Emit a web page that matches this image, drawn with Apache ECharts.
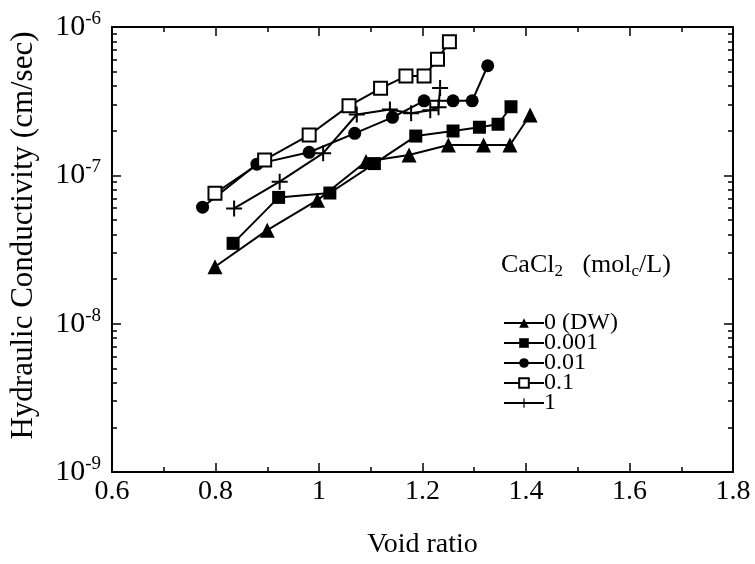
<!DOCTYPE html>
<html><head><meta charset="utf-8">
<script src="https://cdn.jsdelivr.net/npm/echarts@6/dist/echarts.min.js"></script>
<style>html,body{margin:0;padding:0;background:#fff}#c{width:755px;height:564px}</style>
</head><body><div id="c"></div>
<script>
const seriesNames = ['0 (DW)', '0.001', '0.01', '0.1', '1'];
const dwX = [0.799, 0.900, 0.997, 1.091, 1.174, 1.250, 1.318, 1.369, 1.408];
const dwY = [2.42e-8, 4.27e-8, 6.8e-8, 1.24e-7, 1.37e-7, 1.6e-7, 1.6e-7, 1.6e-7, 2.55e-7];
const c001X = [0.834, 0.922, 1.021, 1.107, 1.187, 1.259, 1.310, 1.346, 1.371];
const c001Y = [3.48e-8, 7.1e-8, 7.6e-8, 1.2e-7, 1.84e-7, 1.99e-7, 2.11e-7, 2.21e-7, 2.9e-7];
const c01X = [0.775, 0.880, 0.981, 1.069, 1.142, 1.203, 1.259, 1.296, 1.326];
const c01Y = [6.1e-8, 1.19e-7, 1.43e-7, 1.92e-7, 2.46e-7, 3.18e-7, 3.18e-7, 3.18e-7, 5.48e-7];
const c1X = [0.799, 0.895, 0.981, 1.058, 1.119, 1.168, 1.203, 1.229, 1.252];
const c1Y = [7.57e-8, 1.27e-7, 1.87e-7, 2.94e-7, 3.86e-7, 4.67e-7, 4.67e-7, 6.05e-7, 7.96e-7];
const c10X = [0.836, 0.924, 1.008, 1.073, 1.137, 1.178, 1.215, 1.231, 1.234];
const c10Y = [5.98e-8, 9.06e-8, 1.41e-7, 2.57e-7, 2.78e-7, 2.62e-7, 2.75e-7, 2.88e-7, 3.88e-7];
const yMajor = [1e-9, 1e-8, 1e-7, 1e-6];
const yMinor = [];
[1e-9, 1e-8, 1e-7].forEach(d => { for (let k = 2; k <= 9; k++) yMinor.push(d * k); });

const FONT = 'Liberation Serif';
const pair = (xs, ys) => xs.map((x, i) => [x, ys[i]]);
const plusPath = 'path://M7,0H9V16H7Z M0,7H16V9H0Z';

const chart = echarts.init(document.getElementById('c'));
const grid = { left: 107, right: 22, top: 27, bottom: 92 };
const axisLine = { show: true, lineStyle: { color: '#000', width: 2 } };

function lineSeries(name, data, symbol, size, extra) {
  return Object.assign({
    name, type: 'line', data, symbol, symbolSize: size,
    xAxisIndex: 0, yAxisIndex: 0,
    lineStyle: { color: '#000', width: 2 },
    itemStyle: { color: '#000' },
    z: 3
  }, extra || {});
}

chart.setOption({
  animation: false,
  backgroundColor: '#fff',
  grid,
  title: {
    text: 'CaCl{sub|2}   (mol{sub|c}/L)',
    left: 501, top: 250, padding: 0,
    textStyle: {
      fontFamily: FONT, fontSize: 26, fontWeight: 'normal', color: '#000',
      rich: { sub: { fontFamily: FONT, fontSize: 17, verticalAlign: 'bottom', padding: [13, 0, 0, 0], color: '#000' } }
    }
  },
  legend: {
    orient: 'vertical', left: 503, top: 311, padding: 0,
    itemWidth: 40, itemHeight: 12, itemGap: -4,
    data: seriesNames,
    textStyle: { fontFamily: FONT, fontSize: 24, color: '#000', padding: [0, 0, 0, -5] }
  },
  xAxis: [
    {
      type: 'value', min: 0.6, max: 1.8, interval: 0.2, position: 'bottom',
      name: 'Void ratio', nameLocation: 'middle', nameGap: 59,
      nameTextStyle: { fontFamily: FONT, fontSize: 28, color: '#000' },
      axisLine,
      axisTick: { show: true, inside: true, length: 9, lineStyle: { color: '#000', width: 1.5 } },
      minorTick: { show: true, splitNumber: 2, length: 5, lineStyle: { color: '#000', width: 1.5 } },
      axisLabel: { fontFamily: FONT, fontSize: 28, color: '#000', margin: 6 },
      splitLine: { show: false }
    },
    {
      type: 'value', min: 0.6, max: 1.8, interval: 0.2, position: 'top',
      axisLine,
      axisTick: { show: true, inside: true, length: 9, lineStyle: { color: '#000', width: 1.5 } },
      minorTick: { show: true, splitNumber: 2, length: 5, lineStyle: { color: '#000', width: 1.5 } },
      axisLabel: { show: false }, splitLine: { show: false }
    }
  ],
  yAxis: [
    {
      type: 'log', logBase: 10, min: 1e-9, max: 1e-6, position: 'left',
      name: 'Hydraulic Conductivity (cm/sec)', nameLocation: 'middle', nameGap: 73,
      nameTextStyle: { fontFamily: FONT, fontSize: 31, color: '#000', padding: [0, 0, 0, 28] },
      axisLine,
      axisTick: { show: true, inside: true, length: 9, customValues: yMajor, lineStyle: { color: '#000', width: 1.5 } },
      axisLabel: {
        customValues: yMajor, margin: 11,
        formatter: v => '{b|10}{s|' + Math.round(Math.log10(v)) + '}',
        rich: {
          b: { fontFamily: FONT, fontSize: 30, color: '#000' },
          s: { fontFamily: FONT, fontSize: 19, color: '#000', verticalAlign: 'top', padding: [0, 0, 16, 0] }
        }
      },
      splitLine: { show: false }
    },
    {
      type: 'log', logBase: 10, min: 1e-9, max: 1e-6, position: 'left',
      axisLine: { show: false },
      axisTick: { show: true, inside: true, length: 5, customValues: yMinor, lineStyle: { color: '#000', width: 1.5 } },
      axisLabel: { show: false }, splitLine: { show: false }
    },
    {
      type: 'log', logBase: 10, min: 1e-9, max: 1e-6, position: 'right',
      axisLine,
      axisTick: { show: true, inside: true, length: 9, customValues: yMajor, lineStyle: { color: '#000', width: 1.5 } },
      axisLabel: { show: false }, splitLine: { show: false }
    },
    {
      type: 'log', logBase: 10, min: 1e-9, max: 1e-6, position: 'right',
      axisLine: { show: false },
      axisTick: { show: true, inside: true, length: 5, customValues: yMinor, lineStyle: { color: '#000', width: 1.5 } },
      axisLabel: { show: false }, splitLine: { show: false }
    }
  ],
  series: [
    lineSeries('0 (DW)', pair(dwX, dwY), 'triangle', 15),
    lineSeries('0.001', pair(c001X, c001Y), 'rect', 13),
    lineSeries('0.01', pair(c01X, c01Y), 'circle', 13),
    lineSeries('0.1', pair(c1X, c1Y), 'rect', 13, { itemStyle: { color: '#fff', borderColor: '#000', borderWidth: 2 } }),
    lineSeries('1', pair(c10X, c10Y), plusPath, 16)
  ]
});
</script></body></html>
